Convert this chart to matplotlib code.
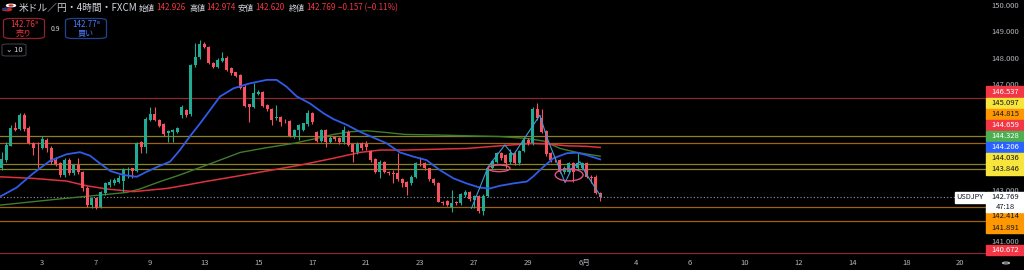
import numpy as np
import matplotlib.pyplot as plt
from matplotlib.patches import Rectangle, FancyBboxPatch, Ellipse, Circle, Wedge

plt.rcParams['font.family'] = ['Noto Sans CJK JP', 'DejaVu Sans']

# ---- data (4h candles, USD/JPY) ----
opens = [143.87, 144.18, 144.73, 145.41, 145.35, 145.88, 145.40, 144.81, 144.65, 144.65,
         144.95, 144.65, 144.18, 144.06, 143.62, 144.18, 143.68, 143.99, 143.72, 143.14,
         142.49, 142.74, 142.42, 142.93, 143.24, 143.30, 143.37, 143.39, 143.84, 143.87,
         143.77, 144.85, 144.69, 145.70, 145.92, 145.70, 145.53, 145.20, 145.25, 145.25,
         145.88, 146.07, 145.91, 147.77, 148.07, 148.57, 148.46, 147.84, 147.71, 147.93,
         148.02, 147.65, 147.49, 147.39, 146.95, 146.29, 146.20, 146.68, 146.76, 146.26,
         146.11, 145.76, 145.82, 145.66, 145.66, 145.09, 145.32, 145.32, 145.53, 145.95,
         145.23, 144.90, 145.32, 144.88, 145.07, 145.00, 144.85, 145.25, 144.78, 144.48,
         144.81, 144.78, 144.53, 144.22, 143.74, 144.12, 143.74, 143.69, 143.68, 143.47,
         143.37, 143.30, 143.55, 144.15, 144.06, 143.87, 143.47, 143.30, 142.61, 142.64,
         142.42, 142.61, 142.55, 142.86, 142.99, 142.67, 142.84, 142.26, 142.84, 143.89,
         144.12, 144.44, 144.37, 144.12, 144.44, 144.06, 144.52, 144.94, 144.81, 146.11,
         145.76, 145.28, 144.44, 144.19, 144.19, 143.74, 143.74, 144.06, 143.87, 143.87,
         144.06, 143.55, 143.55, 142.926]
highs = [144.50, 144.88, 145.50, 145.63, 145.95, 145.95, 145.45, 144.85, 144.88, 145.10,
         145.00, 144.70, 144.30, 144.10, 144.25, 144.25, 144.05, 144.27, 143.78, 143.20,
         142.80, 142.80, 143.00, 143.37, 143.45, 143.50, 143.62, 143.90, 143.92, 143.90,
         144.85, 144.90, 145.80, 146.19, 146.19, 145.75, 145.58, 145.32, 145.36, 145.42,
         146.25, 146.10, 147.82, 148.59, 148.70, 148.65, 148.50, 147.90, 148.02, 148.27,
         148.10, 147.70, 147.52, 147.42, 147.00, 146.30, 147.08, 146.82, 146.80, 146.30,
         146.15, 146.26, 145.85, 145.72, 145.70, 145.36, 145.55, 145.60, 146.07, 146.00,
         145.28, 145.36, 145.36, 145.08, 145.10, 145.05, 145.48, 145.30, 144.82, 144.85,
         144.88, 144.90, 144.58, 144.25, 144.18, 144.15, 143.77, 143.80, 144.44, 143.50,
         143.40, 143.60, 144.10, 144.30, 144.10, 143.90, 143.50, 143.35, 142.65, 142.68,
         143.05, 142.65, 142.95, 143.05, 143.02, 142.88, 142.88, 142.90, 143.90, 144.20,
         144.50, 144.50, 144.42, 144.60, 144.50, 144.55, 145.00, 145.00, 146.17, 146.33,
         146.10, 145.32, 144.48, 144.25, 144.22, 143.95, 144.12, 144.12, 144.45, 144.10,
         144.10, 143.60, 143.60, 142.974]
lows = [143.80, 144.10, 144.70, 145.28, 145.30, 145.28, 144.78, 144.38, 143.87, 144.60,
        144.50, 144.05, 143.95, 143.55, 143.55, 143.62, 143.62, 143.65, 143.00, 142.42,
        142.38, 142.35, 142.38, 142.85, 143.18, 143.25, 143.30, 142.99, 143.49, 143.49,
        143.72, 144.44, 144.44, 145.65, 145.65, 145.42, 145.10, 144.88, 144.88, 145.20,
        145.76, 145.82, 145.85, 147.70, 148.00, 148.40, 147.80, 147.65, 147.65, 147.88,
        147.55, 147.40, 147.30, 146.88, 146.20, 145.63, 146.15, 146.62, 146.18, 146.05,
        145.51, 145.70, 145.48, 145.60, 145.05, 145.00, 144.94, 145.28, 145.48, 145.55,
        144.85, 144.85, 144.69, 144.82, 144.92, 144.80, 144.80, 144.70, 144.12, 144.42,
        144.55, 144.55, 144.10, 143.70, 143.49, 143.68, 143.60, 143.30, 143.40, 143.15,
        142.86, 143.25, 143.50, 143.94, 143.80, 143.40, 143.25, 142.58, 142.50, 142.45,
        142.23, 142.50, 142.50, 142.80, 142.65, 142.36, 142.20, 142.12, 142.80, 143.85,
        144.08, 144.20, 143.90, 144.05, 144.00, 144.00, 144.47, 144.75, 144.75, 145.70,
        145.20, 144.35, 144.12, 144.10, 143.68, 143.65, 143.68, 143.37, 143.82, 143.82,
        143.50, 143.30, 142.90, 142.620]
closes = [144.22, 144.75, 145.41, 145.32, 145.88, 145.35, 144.81, 144.63, 144.63, 144.98,
          144.65, 144.12, 144.02, 143.62, 144.18, 143.68, 143.99, 143.72, 143.11, 142.49,
          142.74, 142.39, 142.96, 143.30, 143.37, 143.43, 143.49, 143.84, 143.86, 143.77,
          144.81, 144.69, 145.73, 145.92, 145.70, 145.48, 145.15, 145.28, 145.32, 145.38,
          146.20, 145.88, 147.77, 148.06, 148.57, 148.47, 147.84, 147.71, 147.96, 148.02,
          147.58, 147.46, 147.37, 146.92, 146.24, 146.20, 146.70, 146.76, 146.24, 146.11,
          145.70, 145.82, 145.63, 145.65, 145.10, 145.32, 145.51, 145.57, 145.95, 145.61,
          144.90, 145.32, 144.85, 145.03, 144.98, 144.85, 145.32, 144.75, 144.50, 144.79,
          144.63, 144.66, 144.19, 143.74, 144.12, 143.72, 143.68, 143.67, 143.47, 143.30,
          143.18, 143.55, 144.06, 144.14, 143.87, 143.47, 143.30, 142.61, 142.55, 142.49,
          142.55, 142.55, 142.89, 142.99, 142.71, 142.84, 142.26, 142.84, 143.87, 144.15,
          144.44, 144.27, 144.08, 144.44, 144.06, 144.52, 144.94, 144.81, 146.11, 145.76,
          145.25, 144.41, 144.19, 144.17, 143.74, 143.87, 144.06, 143.74, 144.06, 144.06,
          143.55, 143.51, 142.93, 142.769]

# moving averages (bar index, price)
blue_x = [-0.4, 3.3, 7.0, 10.7, 14.4, 17.4, 19.6, 21.8, 24.1, 27.0, 30.0, 32.2, 35.2, 37.4,
          39.6, 41.8, 44.1, 46.3, 48.5, 51.5, 55.2, 58.9, 61.1, 63.3, 65.6, 68.5, 71.5, 73.7,
          76.7, 79.6, 82.6, 85.6, 88.5, 91.5, 94.4, 97.4, 100.4, 103.3, 106.3, 108.5, 110.7,
          113.7, 116.7, 118.1, 120.4, 122.6, 125.6, 127.8, 130.0, 133.0]
blue_y = [142.80, 143.14, 143.68, 144.15, 144.40, 144.48, 144.35, 144.06, 143.77, 143.62,
          143.55, 143.74, 143.97, 144.12, 144.56, 145.07, 145.57, 146.07, 146.58, 146.89,
          147.08, 147.21, 147.21, 146.95, 146.58, 146.32, 145.95, 145.73, 145.51, 145.25,
          145.03, 144.81, 144.47, 144.31, 144.18, 143.80, 143.49, 143.30, 143.14, 143.11,
          143.21, 143.30, 143.37, 143.56, 143.93, 144.25, 144.44, 144.46, 144.37, 144.206]
red_x = [-0.4, 7.0, 14.4, 18.9, 23.3, 29.3, 33.0, 36.7, 41.1, 45.2, 51.5, 58.9, 66.3, 73.7,
         79.6, 84.1, 89.6, 96.3, 103.3, 110.7, 118.1, 121.9, 125.6, 130.0, 133.0]
red_y = [143.55, 143.49, 143.39, 143.21, 143.09, 142.99, 143.05, 143.11, 143.24, 143.37,
         143.55, 143.77, 143.99, 144.25, 144.47, 144.56, 144.56, 144.59, 144.62, 144.72,
         144.81, 144.78, 144.72, 144.70, 144.659]
green_x = [-0.4, 7.0, 14.4, 21.8, 27.8, 30.7, 35.2, 39.6, 42.6, 45.2, 48.5, 53.0, 58.9, 64.8,
           70.0, 73.7, 77.4, 81.1, 85.6, 89.6, 96.3, 103.3, 110.7, 116.6, 120.4, 124.1, 127.8,
           133.0]
green_y = [142.48, 142.61, 142.74, 142.86, 142.96, 143.09, 143.37, 143.62, 143.81, 143.97,
           144.18, 144.47, 144.65, 144.81, 145.00, 145.15, 145.25, 145.29, 145.22, 145.15,
           145.13, 145.10, 145.07, 145.00, 144.90, 144.62, 144.47, 144.328]

# hand-drawn wave line and circles
wave_x = [104.4, 108.1, 111.8, 113.7, 119.6, 121.1, 123.0, 125.2, 126.7, 128.5, 129.6, 132.2, 133.3]
wave_y = [142.36, 143.93, 144.75, 144.37, 145.88, 145.06, 144.25, 143.33, 143.87, 144.12,
          143.74, 143.05, 142.78]
circle_x = [110.5, 126.1]
circle_y = [143.87, 143.62]
circle_w = [4.9, 6.2]
circle_h = [0.25, 0.45]

# horizontal levels
levels = [146.537, 145.097, 144.815, 144.036, 143.846, 142.414, 141.891, 140.672]
level_kind = ['red', 'yellow', 'orange', 'yellow', 'yellow', 'orange', 'orange', 'red']

# price-scale tags
tag_values = ['146.537', '145.097', '144.815', '144.659', '144.328', '144.206', '144.036',
              '143.846', '142.414', '141.891', '140.672']
tag_kind = ['red', 'yellow', 'orange', 'red', 'green', 'blue', 'yellow', 'yellow',
            'orange', 'orange', 'red']
last_price = 142.769
countdown = '47:18'

# time axis
date_labels = ['3', '7', '9', '13', '15', '17', '21', '23', '27', '29', '6月',
               '4', '6', '10', '12', '14', '18', '20']
date_pos = [9, 21, 33, 45, 57, 69, 81, 93, 105, 117, 129.5, 141, 153, 165, 177, 189, 201, 213]

# only the price-scale ticks not covered by tags
price_ticks = [141, 143, 147, 148, 149, 150]

# ---- layout ----
W, H = 1024, 270
fig = plt.figure(figsize=(W / 100, H / 100), dpi=100, facecolor='black')
pane_right = 986
ax = fig.add_axes([0, 14 / H, pane_right / W, 256 / H])
ax.set_facecolor('black')
for s in ax.spines.values():
    s.set_visible(False)
ax.set_xticks([])
ax.set_yticks([])

px_per_bar = 4.5
px_per_yen = 26.48
ax.set_xlim(-1.7 / px_per_bar, (pane_right - 1.7) / px_per_bar)
ax.set_ylim(140.672 - 3 / px_per_yen, 140.672 + 253 / px_per_yen)

def py(p):
    # price -> pixel row from top of figure
    return 253 - (p - 140.672) * px_per_yen

def fx(x):
    return x / W

def fy(y):
    return 1 - y / H

line_col = {'red': '#8e2630', 'yellow': '#8a8120', 'orange': '#a0640f'}
tag_bg = {'red': '#f23645', 'yellow': '#f7e53b', 'orange': '#ff9800',
          'green': '#4caf50', 'blue': '#2962ff'}
tag_fg = {'red': 'white', 'yellow': '#131722', 'orange': '#131722',
          'green': 'white', 'blue': 'white'}

for lv, k in zip(levels, level_kind):
    ax.axhline(lv, color=line_col[k], lw=0.9, zorder=1)

ax.axhline(last_price, color='#9598a1', lw=0.8, ls=(0, (1, 2)), zorder=1)

ax.plot(green_x, green_y, color='#3f7d2c', lw=1.0, zorder=2)
ax.plot(red_x, red_y, color='#e0313f', lw=1.1, zorder=2)
ax.plot(blue_x, blue_y, color='#2f5ce8', lw=1.3, zorder=4)

# candles
up_c, dn_c = '#22ab94', '#f7525f'
o = np.array(opens)
h = np.array(highs)
l = np.array(lows)
c = np.array(closes)
idx = np.arange(len(o))
cols = np.where(c >= o, up_c, dn_c)
ax.vlines(idx, l, h, colors=cols, lw=0.8, zorder=3)
body = np.maximum(np.abs(c - o), 0.02)
ax.bar(idx, body, bottom=np.minimum(o, c), width=0.68, color=cols, zorder=3, linewidth=0)

ax.plot(wave_x, wave_y, color='#3a9fd8', lw=0.8, zorder=5)
for cx, cy, cw, ch in zip(circle_x, circle_y, circle_w, circle_h):
    ax.add_patch(Ellipse((cx, cy), cw, ch, fill=False, ec='#e2508c', lw=1.0, zorder=5))

# time labels
for lab, pos in zip(date_labels, date_pos):
    xp = 1.7 + pos * px_per_bar
    fig.text(fx(xp), fy(263), lab, color='#b2b5be', fontsize=5.5, ha='center', va='center')

# price scale ticks (141 sits half behind the bottom tag)
for t in price_ticks:
    yt = py(t) - 2.5 if t == 141 else py(t)
    fig.text(fx(1005), fy(yt), f'{t:.3f}', color='#b2b5be', fontsize=5.5,
             ha='center', va='center')

# tags (stacked the way the price scale pushes them apart)
tag_rows = [91.7, 102.8, 113.9, 125.0, 136.1, 147.2, 158.3, 169.4, 215.5, 227.5, 250.0]
for val, k, yr in zip(tag_values, tag_kind, tag_rows):
    fig.add_artist(Rectangle((fx(986), fy(yr + 5.3)), 38 / W, 10.6 / H,
                             transform=fig.transFigure, color=tag_bg[k], zorder=5))
    fig.text(fx(1005), fy(yr), val, color=tag_fg[k], fontsize=5.5, ha='center',
             va='center', zorder=6)

# last price tag + symbol tag
yl = py(last_price)
fig.add_artist(Rectangle((fx(986), fy(yl + 15)), 38 / W, 20.5 / H,
                         transform=fig.transFigure, color='white', zorder=5))
fig.text(fx(1005), fy(yl), f'{last_price:.3f}', color='#131722', fontsize=5.5,
         ha='center', va='center', zorder=6)
fig.text(fx(1005), fy(yl + 9.2), countdown, color='#131722', fontsize=5.5,
         ha='center', va='center', zorder=6)
fig.add_artist(Rectangle((fx(955), fy(yl + 5.3)), 30 / W, 10.6 / H,
                         transform=fig.transFigure, color='white', zorder=5))
fig.text(fx(970), fy(yl), 'USDJPY', color='#131722', fontsize=5.3,
         ha='center', va='center', zorder=6)

# settings icon
fig.add_artist(Circle((fx(1006), fy(263)), 3.5 / W, transform=fig.transFigure,
                      fill=False, ec='#b2b5be', lw=0.8))

# header
fig.add_artist(Circle((fx(11), fy(5.5)), 4.5 / W, transform=fig.transFigure,
                      color='white', zorder=5))
fig.add_artist(Circle((fx(11), fy(5.5)), 1.8 / W, transform=fig.transFigure,
                      color='#d32f2f', zorder=6))
fig.add_artist(Circle((fx(7), fy(9.5)), 4.5 / W, transform=fig.transFigure,
                      color='#c62828', zorder=7))
fig.add_artist(Wedge((fx(7), fy(9.5)), 4.5 / W, 90, 180, transform=fig.transFigure,
                     color='#1e3a8a', zorder=8))
fig.text(fx(19), fy(8), '米ドル／円・4時間・FXCM', color='#d1d4dc', fontsize=7,
         ha='left', va='center')
ohlc_lab = ['始値', '高値', '安値', '終値']
ohlc_val = ['142.926', '142.974', '142.620', '142.769']
lab_x = [139, 189, 238, 289]
for lb, v, xp in zip(ohlc_lab, ohlc_val, lab_x):
    fig.text(fx(xp), fy(8), lb, color='#d1d4dc', fontsize=5.8, ha='left', va='center')
    fig.text(fx(xp + 17.5), fy(8), v, color='#f23645', fontsize=5.8, ha='left', va='center')
fig.text(fx(338), fy(8), '−0.157 (−0.11%)', color='#f23645', fontsize=5.8,
         ha='left', va='center')

fig.add_artist(FancyBboxPatch((fx(3.5), fy(38.5)), 41 / W, 20 / H,
                              boxstyle='round,pad=0,rounding_size=0.008',
                              transform=fig.transFigure, fc='black', ec='#8e2330', lw=0.9))
fig.text(fx(24), fy(24.5), '142.76⁹', color='#f23645', fontsize=5.8, ha='center', va='center')
fig.text(fx(24), fy(33), '売り', color='#f23645', fontsize=5.8, ha='center', va='center')
fig.text(fx(55), fy(29), '0.9', color='#d1d4dc', fontsize=5, ha='center', va='center')
fig.add_artist(FancyBboxPatch((fx(65.5), fy(38.5)), 41 / W, 20 / H,
                              boxstyle='round,pad=0,rounding_size=0.008',
                              transform=fig.transFigure, fc='black', ec='#23428f', lw=0.9))
fig.text(fx(86), fy(24.5), '142.77⁸', color='#4f7dff', fontsize=5.8, ha='center', va='center')
fig.text(fx(86), fy(33), '買い', color='#4f7dff', fontsize=5.8, ha='center', va='center')
fig.add_artist(FancyBboxPatch((fx(2), fy(56)), 24 / W, 12 / H,
                              boxstyle='round,pad=0,rounding_size=0.005',
                              transform=fig.transFigure, fc='black', ec='#3a3d45', lw=0.8))
fig.text(fx(14), fy(50), '⌄ 10', color='#d1d4dc', fontsize=5.5, ha='center', va='center')

fig.savefig('out.png', dpi=100, facecolor='black')
